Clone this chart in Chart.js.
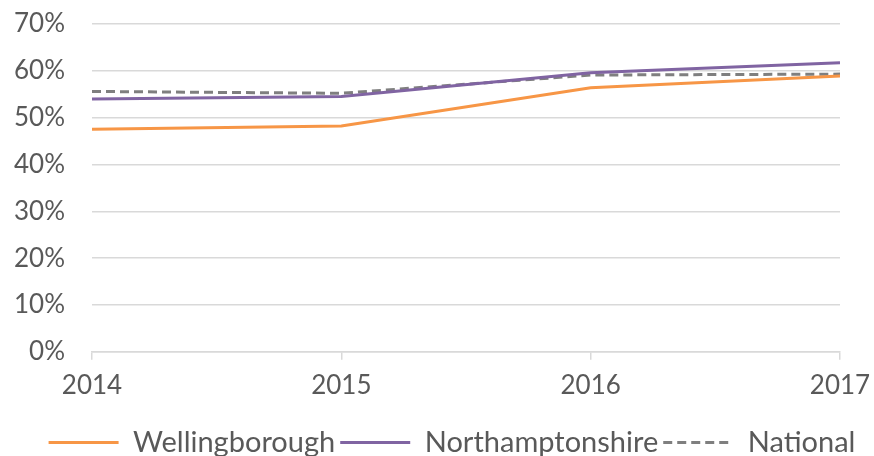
<!DOCTYPE html>
<html>
<head>
<meta charset="utf-8">
<script src="https://cdn.jsdelivr.net/npm/chart.js@4"></script>
<style>
  html,body{margin:0;padding:0;background:#fff;}
  #wrap{width:874px;height:456px;}
</style>
</head>
<body>
<div id="wrap"><canvas id="chart" width="874" height="456"></canvas></div>
<script>
const years = ['2014', '2015', '2016', '2017'];
const wellingborough = [47.5, 48.2, 56.4, 58.9];
const northamptonshire = [54.0, 54.5, 59.6, 61.7];
const national = [55.6, 55.2, 59.1, 59.3];
const yTicks = [0, 10, 20, 30, 40, 50, 60, 70];

const txt = '#595959';
const gridCol = '#D9D9D9';
const ctx = document.getElementById('chart').getContext('2d');

// nudge the bottom legend a little to the right, as in the original
const legendShift = {
  id: 'legendShift',
  afterLayout(chart) { chart.legend.left += 8; chart.legend.right += 8; }
};

new Chart(ctx, {
  type: 'line',
  data: {
    labels: years,
    datasets: [
      {label:'Wellingborough', data:wellingborough, borderColor:'#F79646', backgroundColor:'#F79646', borderWidth:3},
      {label:'Northamptonshire', data:northamptonshire, borderColor:'#8064A2', backgroundColor:'#8064A2', borderWidth:3},
      {label:'National', data:national, borderColor:'#7F7F7F', backgroundColor:'#7F7F7F', borderWidth:3, borderDash:[9,5]}
    ]
  },
  plugins: [legendShift],
  options: {
    responsive: false,
    animation: false,
    elements: { point:{radius:0, hoverRadius:0}, line:{tension:0, borderCapStyle:'butt'} },
    layout: { padding:{left:14, right:0, top:24, bottom:-11} },
    plugins: {
      tooltip:{enabled:false},
      legend: {
        position:'bottom',
        labels: {
          usePointStyle:true, pointStyle:'line', pointStyleWidth:70,
          boxHeight:6, color:txt, padding:5,
          font:{family:'Lato', size:29},
          generateLabels: chart => {
            const items = Chart.defaults.plugins.legend.labels.generateLabels(chart);
            items.forEach((it, i) => { it.lineDash = chart.data.datasets[i].borderDash || []; it.lineWidth = 3; });
            return items;
          }
        }
      }
    },
    scales: {
      x: {
        offset:false,
        afterFit: s => { s.height += 12; s.paddingLeft = 0; s.paddingRight = 34; },
        grid:{drawOnChartArea:false, drawTicks:true, tickLength:8, color:gridCol, lineWidth:1.5},
        border:{display:true, color:gridCol, width:1.5},
        ticks:{color:txt, padding:10, maxRotation:0, font:{family:'Lato', size:26}}
      },
      y: {
        min:0, max:70,
        afterBuildTicks: s => { s.ticks = yTicks.map(v => ({value:v})); },
        afterFit: s => { s.width = 78; s.paddingTop = 0; s.paddingBottom = 0; },
        grid:{color:gridCol, lineWidth:1.5, drawTicks:false},
        border:{display:false},
        ticks:{color:txt, padding:27, font:{family:'Lato', size:26}, callback:v => v + '%'}
      }
    }
  }
});
</script>
</body>
</html>
